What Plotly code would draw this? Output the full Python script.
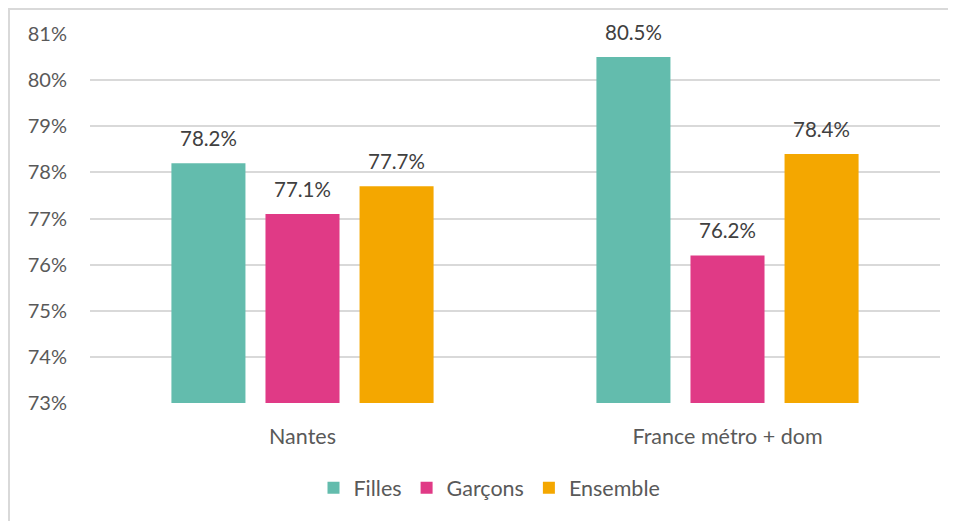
import plotly.graph_objects as go

categories = ["Nantes", "France métro + dom"]
series_names = ["Filles", "Garçons", "Ensemble"]
filles = [78.2, 80.5]
garcons = [77.1, 76.2]
ensemble = [77.7, 78.4]
colors = ["#63BCAD", "#E03A86", "#F4A700"]
y_ticks = [73, 74, 75, 76, 77, 78, 79, 80, 81]
y_tick_labels = [f"{v}%" for v in y_ticks]

FONT = "Lato, 'Open Sans', sans-serif"
TXT = "#595959"

W, H = 956, 521
ML, MR, MT, MB = 82, 24, 26, 126
BARGAP, BARGROUPGAP = 0.336, 0.213
plot_w = W - ML - MR
plot_h = H - MT - MB
slot_px = plot_w / len(categories) * (1 - BARGAP) / len(series_names)

fig = go.Figure()
annotations = []
all_series = [filles, garcons, ensemble]
for i, (name, vals, col) in enumerate(zip(series_names, all_series, colors)):
    fig.add_trace(go.Bar(name=name, x=categories, y=vals, marker_color=col,
                         marker_line_width=0))
    for cat, v in zip(categories, vals):
        annotations.append(dict(
            x=cat, y=v, xref="x", yref="y", text=f"{v:.1f}%", showarrow=False,
            xshift=(i - (len(series_names) - 1) / 2) * slot_px, yshift=25,
            yanchor="middle", font=dict(family=FONT, size=20.5, color="#404040")))

fig.update_layout(
    width=W, height=H,
    margin=dict(l=ML, r=MR, t=MT, b=MB),
    paper_bgcolor="white", plot_bgcolor="white",
    barmode="group", bargap=BARGAP, bargroupgap=BARGROUPGAP,
    font=dict(family=FONT, size=20, color=TXT),
    showlegend=True,
    legend=dict(orientation="h", x=0.47, xanchor="center", y=-0.23, yanchor="middle",
                font=dict(family=FONT, size=21.5, color=TXT), traceorder="normal"),
    xaxis=dict(showgrid=False, showline=False, ticks="", ticklabelstandoff=18,
               tickfont=dict(family=FONT, size=21.5, color=TXT)),
    yaxis=dict(range=[73, 81], tickvals=y_ticks, ticktext=y_tick_labels,
               showgrid=True, gridcolor="#D9D9D9", gridwidth=1.5, zeroline=False,
               showline=False, ticks="", ticklabelstandoff=22,
               tickfont=dict(family=FONT, size=20, color=TXT)),
    annotations=annotations,
    shapes=[dict(type="rect", xref="paper", yref="paper",
                 x0=(1 - ML) / plot_w, x1=1.2, y0=-0.5,
                 y1=1 + (MT - 1) / plot_h,
                 line=dict(color="#D9D9D9", width=2), fillcolor="rgba(0,0,0,0)", layer="below")],
)

fig.write_html("out.html")
